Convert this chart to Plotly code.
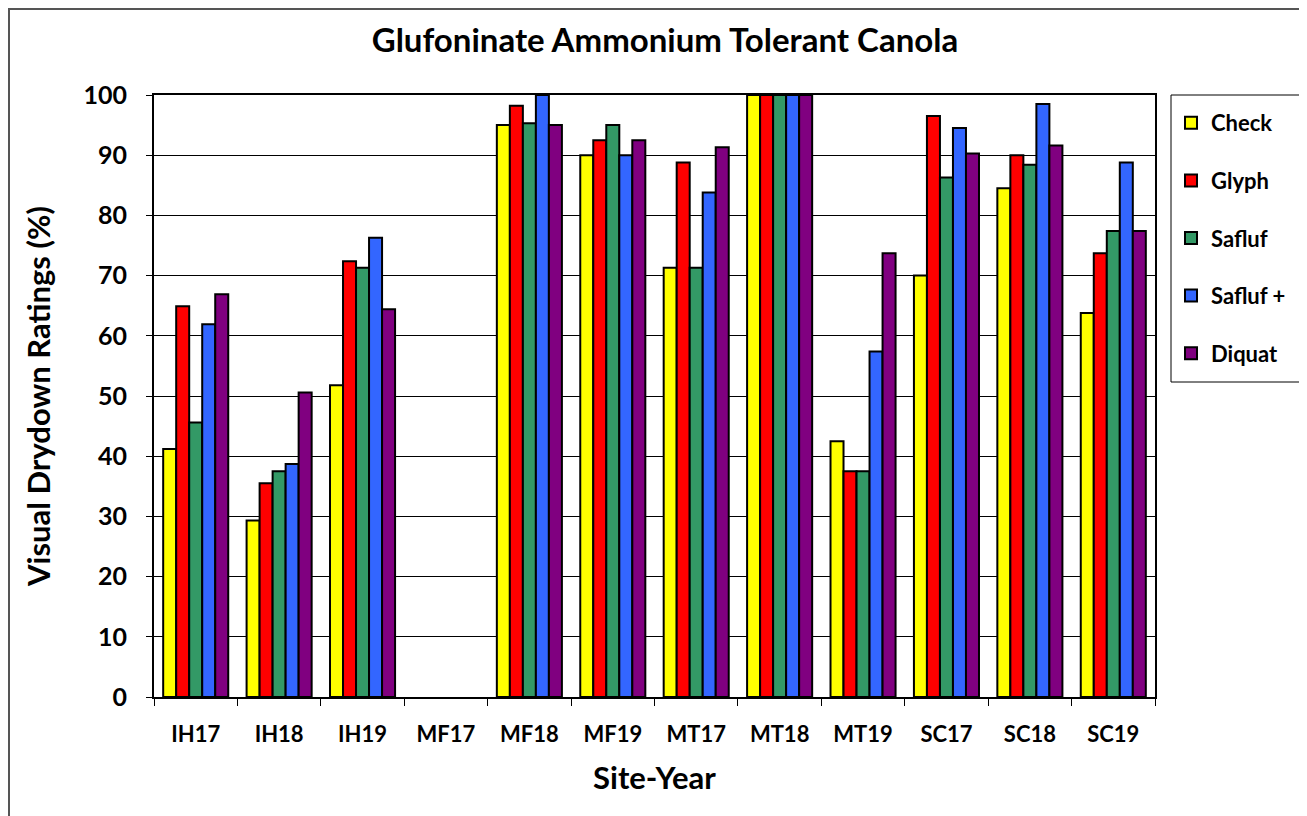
import plotly.graph_objects as go

categories = ["IH17", "IH18", "IH19", "MF17", "MF18", "MF19", "MT17", "MT18", "MT19", "SC17", "SC18", "SC19"]
check =    [41.2, 29.3, 51.8, None, 95.0, 90.0, 71.3, 100, 42.5, 70.0, 84.5, 63.8]
glyph =    [64.9, 35.5, 72.4, None, 98.2, 92.5, 88.8, 100, 37.5, 96.5, 90.0, 73.7]
safluf =   [45.6, 37.5, 71.3, None, 95.3, 95.0, 71.3, 100, 37.5, 86.3, 88.4, 77.4]
safluf_p = [61.9, 38.7, 76.3, None, 100, 90.0, 83.8, 100, 57.4, 94.5, 98.5, 88.8]
diquat =   [66.9, 50.6, 64.4, None, 95.0, 92.5, 91.3, 100, 73.7, 90.3, 91.6, 77.4]

series = [
    ("Check", check, "#FFFF00"),
    ("Glyph", glyph, "#FF0000"),
    ("Safluf", safluf, "#339966"),
    ("Safluf +", safluf_p, "#3366FF"),
    ("Diquat", diquat, "#800080"),
]

FONT = "Lato"

fig = go.Figure()
for i, (name, vals, col) in enumerate(series):
    fig.add_trace(go.Bar(
        x=categories, y=vals, name=f"<b>{name}</b>", legendgroup=f"g{i}",
        marker=dict(color=col, line=dict(color="black", width=2)),
    ))

# page body has an 8px margin, so figure coordinates = reference - 8
OFF = 8
W, H = 1299, 808
L, R, T, B = 154 - OFF, 1155 - OFF, 95 - OFF, 697 - OFF
pw, ph = R - L, B - T

def px_x(x):
    return (x - L) / pw

def px_y(y):
    return (B - y) / ph

fig.update_layout(
    width=W, height=H,
    margin=dict(l=L, r=W - R, t=T, b=H - B, pad=0),
    paper_bgcolor="white", plot_bgcolor="white",
    barmode="group", bargap=0.22, bargroupgap=0,
    font=dict(family=FONT, color="black"),
    title=dict(text="<b>Glufoninate Ammonium Tolerant Canola</b>", x=px_x(665 - OFF), xanchor="center",
               xref="paper", y=1 - (40 - OFF) / H, yanchor="middle", font=dict(size=33, family=FONT)),
    legend=dict(x=px_x(1171 - OFF), xanchor="left", y=px_y(102 - OFF), yanchor="top",
                borderwidth=0, bgcolor="rgba(0,0,0,0)",
                font=dict(size=22, family=FONT), tracegroupgap=26,
                itemsizing="constant"),
    showlegend=True,
)

fig.update_xaxes(
    type="category", showline=True, linecolor="black", linewidth=2, mirror=True,
    ticks="outside", ticklen=7, tickwidth=1, tickcolor="black", tickson="boundaries",
    tickfont=dict(size=22, family=FONT), ticklabelstandoff=17,
    title=dict(text="<b>Site-Year</b>", font=dict(size=31, family=FONT), standoff=21),
    tickprefix="<b>", ticksuffix="</b>",
)
fig.update_yaxes(
    range=[0, 100], dtick=10, showline=True, linecolor="black", linewidth=2, mirror=True,
    showgrid=True, gridcolor="black", gridwidth=1,
    ticks="outside", ticklen=6, tickwidth=1, tickcolor="black",
    tickfont=dict(size=25, family=FONT), ticklabelstandoff=14,
    tickprefix="<b>", ticksuffix="</b>",
    title=dict(text="<b>Visual Drydown Ratings (%)</b>", font=dict(size=31, family=FONT), standoff=24),
    zeroline=False,
)

# outer chart frame
fig.add_shape(type="rect", xref="paper", yref="paper",
              x0=px_x(1), x1=px_x(1304 - OFF), y0=px_y(H + 20), y1=px_y(1),
              line=dict(color="#555555", width=2), fillcolor="rgba(0,0,0,0)", layer="below")
# legend box
fig.add_shape(type="rect", xref="paper", yref="paper",
              x0=px_x(1171 - OFF), x1=px_x(1302 - OFF), y0=px_y(382 - OFF), y1=px_y(95 - OFF),
              line=dict(color="black", width=1), fillcolor="white", layer="below")

fig.write_html("out.html")
